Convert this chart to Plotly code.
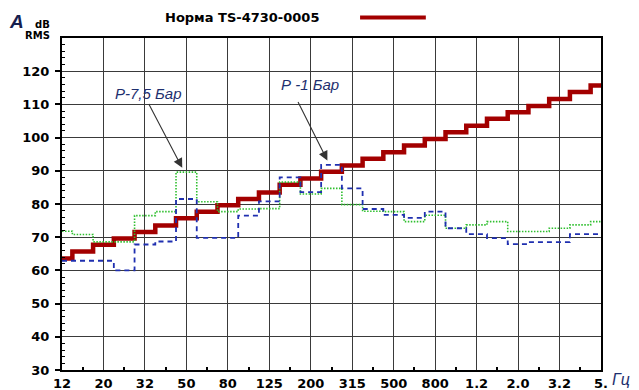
import plotly.graph_objects as go

# 1/3-octave band centre frequencies, Hz
bands_hz = [12.5, 16, 20, 25, 31.5, 40, 50, 63, 80, 100, 125, 160, 200, 250,
            315, 400, 500, 630, 800, 1000, 1250, 1600, 2000, 2500, 3150, 4000, 5000]
# every second band carries a label
tick_labels = ["12", "20", "32", "50", "80", "125", "200", "315", "500", "800",
               "1.2", "2.0", "3.2", "5."]

norm_name = "Норма TS-4730-0005"
norm_db = [63.6, 65.7, 67.7, 69.6, 71.6, 73.5, 75.7, 77.7, 79.6, 81.5, 83.5, 85.8,
           87.7, 89.7, 91.6, 93.6, 95.6, 97.6, 99.6, 101.6, 103.6, 105.7, 107.6,
           109.5, 111.6, 113.7, 115.7]
p75_name = "Р-7,5 Бар"
p75_db = [71.8, 70.8, 68.6, 68.6, 76.5, 77.7, 89.6, 80.7, 77.7, 78.5, 78.6, 86.6,
          83.0, 84.7, 79.8, 77.8, 77.7, 74.7, 76.6, 72.7, 73.7, 74.7, 71.7, 71.7,
          72.7, 73.7, 74.7]
p1_name = "Р -1 Бар"
p1_db = [62.9, 62.9, 62.9, 60.0, 67.8, 68.7, 81.5, 69.8, 69.8, 76.5, 80.8, 88.0,
         83.6, 91.8, 84.7, 78.5, 76.7, 75.8, 77.7, 72.7, 70.9, 69.7, 67.9, 68.5,
         68.5, 70.9, 70.9]

y_ticks = [30, 40, 50, 60, 70, 80, 90, 100, 110, 120]

band_idx = list(range(len(bands_hz)))
label_idx = band_idx[::2]
minor_x = band_idx[1::2]
minor_y = [v for v in range(32, 130, 2) if v % 10]

RED = "#a30000"
GREEN = "#2fbf2f"
BLUE = "#1f2fb0"
TXT = "#1e2f6e"
TICK_FONT = dict(family="DejaVu Sans", size=13, color="black", weight="bold")

fig = go.Figure()
fig.add_trace(go.Scatter(x=band_idx, y=norm_db, name=norm_name, mode="lines",
                         line=dict(color=RED, width=4.5, shape="hvh"),
                         customdata=bands_hz, showlegend=False))
fig.add_trace(go.Scatter(x=band_idx, y=p75_db, name=p75_name, mode="lines",
                         line=dict(color=GREEN, width=1.6, shape="hvh", dash="1.5px,1.5px"),
                         customdata=bands_hz, showlegend=False))
fig.add_trace(go.Scatter(x=band_idx, y=p1_db, name=p1_name, mode="lines",
                         line=dict(color=BLUE, width=1.8, shape="hvh", dash="5px,4px"),
                         customdata=bands_hz, showlegend=False))

# callouts: label text plus an arrow onto the peak of each curve
i75 = p75_db.index(max(p75_db))
i1 = p1_db.index(max(p1_db))
callouts = [
    (p75_name, i75, p75_db[i75], 4.15, 113.2, 4.15, 110.6),
    (p1_name, i1, p1_db[i1], 11.95, 115.9, 11.35, 111.2),
]
for text, bx, by, tx, ty, ax, ay in callouts:
    fig.add_annotation(x=tx, y=ty, text=text, showarrow=False,
                       font=dict(family="Liberation Sans", size=15, color=TXT, style="italic"))
    fig.add_annotation(x=bx - 0.2, y=by + 1.3, ax=ax, ay=ay, axref="x", ayref="y",
                       text="", showarrow=True, arrowhead=2, arrowsize=1.7,
                       arrowwidth=1.1, arrowcolor="#333333", standoff=0)

# header: unit label on the left, legend entry on the right
fig.add_annotation(xref="paper", yref="paper", x=-0.0853, y=1.0497, text="A",
                   showarrow=False, xanchor="center", yanchor="middle",
                   font=dict(family="Liberation Sans", size=19, color="#16204f",
                             style="italic", weight="bold"))
fig.add_annotation(xref="paper", yref="paper", x=-0.036, y=1.042, text="dB",
                   showarrow=False, xanchor="center", yanchor="middle",
                   font=dict(family="DejaVu Sans", size=10, color="black", weight="bold"))
fig.add_annotation(xref="paper", yref="paper", x=-0.0455, y=1.0075, text="RMS",
                   showarrow=False, xanchor="center", yanchor="middle",
                   font=dict(family="DejaVu Sans", size=10, color="black", weight="bold"))
fig.add_annotation(xref="paper", yref="paper", x=1.037, y=-0.030, text="Гц",
                   showarrow=False, xanchor="center", yanchor="middle",
                   font=dict(family="Liberation Sans", size=16, color=TXT, style="italic"))
fig.add_annotation(xref="paper", yref="paper", x=0.334, y=1.063, text=norm_name,
                   showarrow=False, xanchor="center", yanchor="middle",
                   font=dict(family="DejaVu Sans", size=13, color="black", weight="bold"))
fig.add_shape(type="line", xref="paper", yref="paper", x0=0.553, x1=0.675,
              y0=1.062, y1=1.062, line=dict(color=RED, width=4))

axis_common = dict(showgrid=True, gridcolor="#3a3a3a", gridwidth=1.4,
                   showline=True, linecolor="black", linewidth=2, mirror=True,
                   zeroline=False, tickfont=TICK_FONT, automargin=False)

fig.update_xaxes(range=[0, len(bands_hz) - 1], tickmode="array", tickvals=label_idx,
                 ticktext=tick_labels, ticks="",
                 minor=dict(tickmode="array", tickvals=minor_x, ticks="inside",
                            ticklen=3, tickwidth=1.5, tickcolor="black", showgrid=False),
                 **axis_common)
fig.update_yaxes(range=[30, 130], tickmode="array", tickvals=y_ticks,
                 ticks="outside", ticklen=5, tickwidth=1.5, tickcolor="black",
                 ticklabelstandoff=3,
                 minor=dict(tickmode="array", tickvals=minor_y, ticks="inside",
                            ticklen=3, tickwidth=1.2, tickcolor="black", showgrid=False),
                 **axis_common)

fig.update_layout(width=639, height=390, margin=dict(l=62, r=38, t=38, b=20),
                  plot_bgcolor="white", paper_bgcolor="white", showlegend=False)

fig.write_html("out.html")
